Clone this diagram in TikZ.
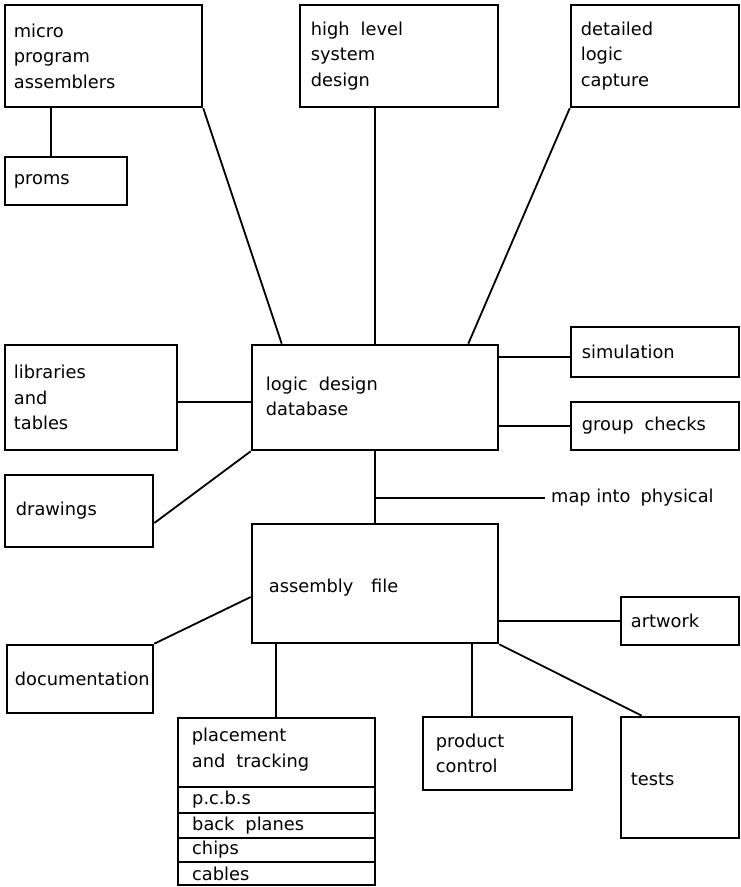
\documentclass[tikz,border=0pt]{standalone}
\usepackage{fontspec}
\setmainfont{DejaVu Sans}
\usetikzlibrary{positioning,calc}
\begin{document}
\begin{tikzpicture}[x=1pt,y=-1pt,
  box/.style={draw, rectangle, line width=2.6pt, inner sep=0pt},
  rowbox/.style={box, line width=2pt},
  txt/.style={inner sep=0pt, align=left, font=\fontsize{17.8}{25.5}\selectfont},
  link/.style={line width=1.8pt}]
\useasboundingbox (0,0) rectangle (741,887);

% top row
\node[box, minimum width=197pt, minimum height=102pt] (micro) at (103.5,56) {};
\node[txt, right=10pt of micro.west] (microT) {micro\\program\\assemblers};
\node[box, minimum width=122pt, minimum height=48pt] (proms) at (66,181) {};
\node[txt, right=10pt of proms.west] (promsT) {proms};
\node[box, minimum width=198pt, minimum height=102pt] (high) at (399,56) {};
\node[txt, right=12pt of high.west] (highT) {high\hspace{0.3em} level\\system\\design};
\node[box, minimum width=168pt, minimum height=102pt] (detailed) at (655,56) {};
\node[txt, right=11pt of detailed.west] (detailedT) {detailed\\logic\\capture};

% logic design level
\node[box, minimum width=172pt, minimum height=105pt] (libraries) at (91,397.5) {};
\node[txt, right=10pt of libraries.west] (librariesT) {libraries\\and\\tables};
\node[box, minimum width=246pt, minimum height=105pt] (logic) at (375,397.5) {};
\node[txt, right=15pt of logic.west, yshift=1pt] (logicT) {logic\hspace{0.3em} design\\database};
\node[box, minimum width=168pt, minimum height=50pt] (simulation) at (655,352) {};
\node[txt, right=12pt of simulation.west] (simulationT) {simulation};
\node[box, minimum width=168pt, minimum height=48pt] (group) at (655,426) {};
\node[txt, right=12pt of group.west] (groupT) {group\hspace{0.3em} checks};
\node[box, minimum width=148pt, minimum height=72pt] (drawings) at (79,511) {};
\node[txt, right=12pt of drawings.west] (drawingsT) {drawings};

\node[txt, anchor=west] (map) at (551,498) {map into\hspace{0.25em} physical};

% physical level
\node[box, minimum width=246pt, minimum height=119pt] (assembly) at (375,583.5) {};
\node[txt, right=18pt of assembly.west, yshift=-4pt] (assemblyT) {assembly\hspace{1em}file};
\node[box, minimum width=146pt, minimum height=68pt] (documentation) at (80,679) {};
\node[txt, right=9pt of documentation.west] (documentationT) {documentation};
\node[box, minimum width=118pt, minimum height=48pt] (artwork) at (680,621) {};
\node[txt, right=11pt of artwork.west] (artworkT) {artwork};
\node[box, minimum width=149pt, minimum height=73pt] (product) at (497.5,753.5) {};
\node[txt, right=14pt of product.west] (productT) {product\\control};
\node[box, minimum width=118pt, minimum height=121pt] (tests) at (680,777.5) {};
\node[txt, right=11pt of tests.west, yshift=-2pt] (testsT) {tests};

% placement and tracking with its item rows
\node[box, minimum width=197pt, minimum height=69pt] (place) at (276.5,752.5) {};
\node[txt, right=15pt of place.west, yshift=3pt] (placeT) {placement\\and\hspace{0.3em} tracking};
\node[rowbox, minimum width=197pt, minimum height=26pt] (pcbs) at (276.5,800) {};
\node[txt, right=15pt of pcbs.west] (pcbsT) {p.c.b.s};
\node[rowbox, minimum width=197pt, minimum height=25pt] (back) at (276.5,825.5) {};
\node[txt, right=15pt of back.west] (backT) {back\hspace{0.3em} planes};
\node[rowbox, minimum width=197pt, minimum height=24pt] (chips) at (276.5,850) {};
\node[txt, right=15pt of chips.west] (chipsT) {chips};
\node[rowbox, minimum width=197pt, minimum height=23pt] (cables) at (276.5,873.5) {};
\node[txt, right=15pt of cables.west] (cablesT) {cables};

% connectors
\draw[link] ($(micro.south west)+(47,0)$) -- ($(proms.north west)+(47,0)$);
\draw[link] (micro.south east) -- ($(logic.north west)+(31,0)$);
\draw[link] (logic.north) -- (logic.north |- high.south);
\draw[link] (detailed.south west) -- ($(logic.north east)+(-31,0)$);
\draw[link] ($(libraries.east)+(0,4.5)$) -- ($(logic.west)+(0,4.5)$);
\draw[link] ($(drawings.east)+(0,12)$) -- (logic.south west);
\coordinate (s) at ($(simulation.west)+(0,5)$);
\draw[link] (s) -- (s -| logic.east);
\draw[link] (group.west) -- (group.west -| logic.east);
\draw[link] (logic.south) -- (assembly.north);
\draw[link] (map.west -| logic.south) -- ($(map.west)+(-6,0)$);
\draw[link] ($(assembly.west)+(0,13.5)$) -- (documentation.north east);
\draw[link] (artwork.west) -- (artwork.west -| assembly.east);
\coordinate (p) at ($(assembly.south west)+(25,0)$);
\draw[link] (p) -- (p |- place.north);
\coordinate (q) at ($(product.north west)+(50,0)$);
\draw[link] (q) -- (q |- assembly.south);
\draw[link] (assembly.south east) -- ($(tests.north west)+(22,0)$);
\end{tikzpicture}
\end{document}
